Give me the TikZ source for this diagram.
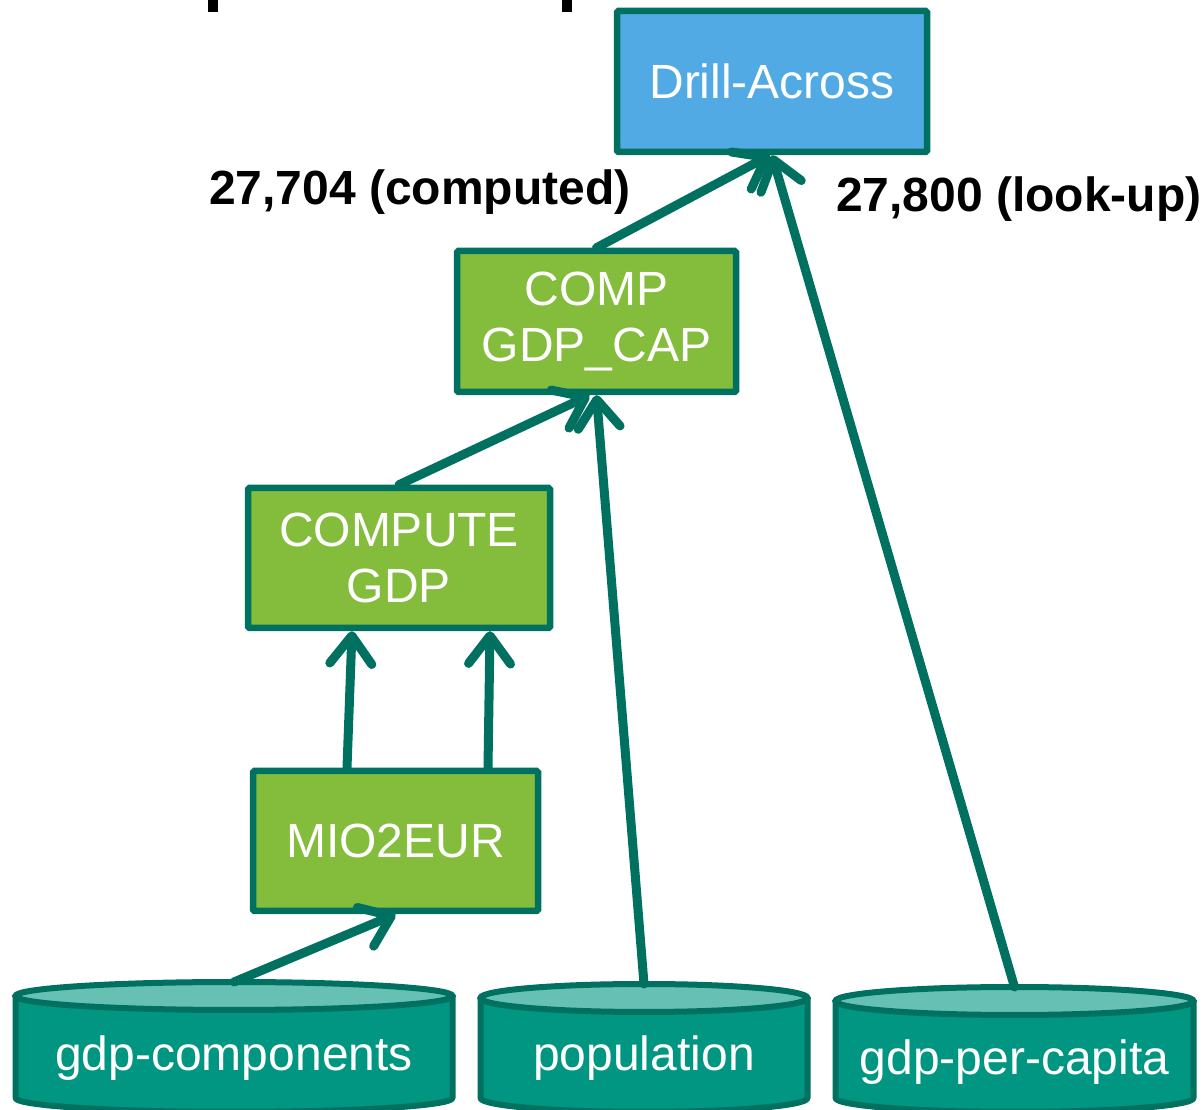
\documentclass[tikz,border=0pt]{standalone}
\usepackage{fontspec}
\setmainfont{Liberation Sans}
\usetikzlibrary{arrows.meta}

\definecolor{edgeteal}{RGB}{0,112,96}
\definecolor{drillblue}{RGB}{82,170,228}
\definecolor{opgreen}{RGB}{132,189,60}
\definecolor{storebody}{RGB}{0,150,130}
\definecolor{storetop}{RGB}{102,193,180}

% data store drawn as a cylinder: name, centre x, half width, top-ellipse centre y, label y, label
\newcommand{\datastore}[6]{%
  \fill[storebody, draw=edgeteal, line width=6pt, line join=round]
    ({#2-#3},#4) -- ({#2-#3},12)
    arc[start angle=180, end angle=360, x radius=#3, y radius=14]
    -- ({#2+#3},#4) -- cycle;
  \draw[fill=storetop, draw=edgeteal, line width=6pt] (#2,#4) ellipse[x radius=#3, y radius=14];
  \coordinate (#1top) at (#2,{#4+14});
  \node[storelabel] (#1) at (#2,#5) {#6};
}

\begin{document}
\begin{tikzpicture}[x=1pt, y=1pt,
  box/.style={draw=edgeteal, line width=6.5pt, rounded corners=1.5pt, text=white,
    font=\fontsize{48}{56}\selectfont, align=center, inner sep=0pt},
  opbox/.style={box, fill=opgreen},
  storelabel/.style={text=white, font=\fontsize{48}{56}\selectfont, inner sep=0pt},
  countlabel/.style={font=\bfseries\fontsize{48}{56}\selectfont, inner sep=0pt, anchor=west},
  flow/.style={draw=edgeteal, line width=9pt, line cap=round,
    -{Straight Barb[length=28pt, width=42pt, round]}}]
\useasboundingbox (0,0) rectangle (1204,1110);

% cropped heading strokes along the top edge
\fill (208,1098) rectangle (218,1112);
\fill (562,1098) rectangle (572,1112);

% operators
\node[box, fill=drillblue, minimum width=310pt, minimum height=141pt] (drill) at (772,1028.5) {Drill-Across};
\node[opbox, minimum width=279pt, minimum height=141pt] (comp) at (596.5,788.5) {COMP\\GDP\_CAP};
\node[opbox, minimum width=302pt, minimum height=140pt] (cgdp) at (399,552) {COMPUTE\\GDP};
\node[opbox, minimum width=285pt, minimum height=140pt] (mio) at (395.5,269) {MIO2EUR};

% data sources
\datastore{gc}{234}{218.5}{114}{52}{gdp-components}
\datastore{pop}{644}{163.5}{112}{52}{population}
\datastore{gpc}{1014.5}{179}{109}{48}{gdp-per-capita}

% results
\node[countlabel] (lblc) at (209,918) {27,704 (computed)};
\node[countlabel] (lbll) at (836,911) {27,800 (look-up)};

% flows
\draw[flow] (gctop) -- (mio.south);
\draw[flow] ([xshift=-48.5pt]mio.north) -- ([xshift=-47pt]cgdp.south);
\draw[flow] ([xshift=92.5pt]mio.north) -- ([xshift=91pt]cgdp.south);
\draw[flow] (cgdp.north) -- ([xshift=-7pt]comp.south);
\draw[flow] (poptop) -- (comp.south);
\draw[flow] (comp.north) -- ([xshift=-2pt]drill.south);
\draw[flow] (gpctop) -- (drill.south);
\end{tikzpicture}
\end{document}
